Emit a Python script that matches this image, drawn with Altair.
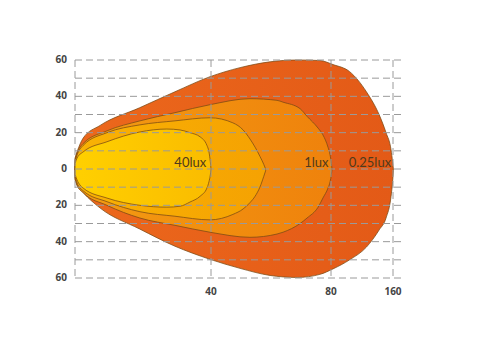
import altair as alt
import pandas as pd

# ---- data (x = distance, y = lateral width) ----
outer_x = [0, 0.6, 2.4, 7.4, 19, 29.4, 39.7, 49.7, 59.7, 68.7, 76.3, 82.5, 104, 125.7, 142.2, 151, 157.5, 159.5, 160.5]
outer_top = [6, 9.4, 17, 24, 33.7, 42.5, 50.8, 55.8, 59, 60, 59.7, 57.5, 53.6, 42.5, 29.8, 20, 10.5, 4, 0]
outer_bot = [-6, -9, -13, -21.5, -33, -42.5, -49.7, -54.7, -58.6, -59.7, -58, -55, -50, -43, -33.5, -27, -15, -7, -1]

lux1_x = [0, 0.6, 2.4, 9.4, 19.1, 29.4, 39.7, 53, 62, 64, 69.7, 72, 75.7, 77.3, 79, 79.7, 80.5, 81.3]
lux1_top = [5, 8.8, 14, 21, 26.5, 31, 35.4, 38.7, 37.8, 36.8, 33.2, 29, 22.5, 18.8, 12, 7.7, 3, 0]
lux1_bot = [-5, -8.8, -13, -20, -27, -31, -34.8, -37.6, -35.8, -34.8, -30, -27, -21, -16, -10.5, -7, -3, 0]

lux10_x = [0, 0.6, 2.4, 9.4, 19.1, 29.4, 39.7, 47.3, 50.7, 53, 54.7, 56.3, 57.6, 58.2]
lux10_top = [4, 7.7, 13, 20, 24.3, 26.5, 28.2, 25.4, 21.5, 16.5, 12, 7, 2.5, 0]
lux10_bot = [-4, -7.7, -12, -18, -23.5, -26, -28, -25, -22, -18.5, -15, -10, -4, -1]

lux40_x = [0, 0.6, 2.4, 9.4, 19.1, 27, 30.9, 33.8, 36.8, 38.8, 39.4, 39.8, 40]
lux40_top = [3, 6, 9.4, 15, 20.4, 22, 21.5, 20, 17.7, 13, 9.4, 4, 0]
lux40_bot = [-3, -6, -10.5, -16, -20, -21, -20.5, -18.2, -15, -10.5, -7, -3.3, 0]

label_text = ["40lux", "1lux", "0.25lux"]
label_x = [38.6, 79.2, 157.6]
label_y = [3.5, 3.5, 3.5]

x_grid = [0, 40, 80, 160]
x_tick_vals = [40, 80, 160]
x_tick_text = ["40", "80", "160"]
y_grid = list(range(-60, 61, 10))
y_tick_vals = [60, 40, 20, 0, -20, -40, -60]
y_tick_text = ["60", "40", "20", "0", "20", "40", "60"]

# ---- scales ----
x_scale = alt.Scale(domain=[0, 40, 80, 160], range=[0, 136, 256, 318], nice=False, zero=False)
y_scale = alt.Scale(domain=[-60, 60], nice=False, zero=False)

font = "Open Sans"
grid_color = "#9a9a9a"
tick_color = "#444444"


def contour(xs, top, bot, c0, c1):
    df = pd.DataFrame({"x": xs, "top": top, "bot": bot})
    grad = alt.Gradient(
        gradient="linear",
        stops=[alt.GradientStop(color=c0, offset=0), alt.GradientStop(color=c1, offset=1)],
        x1=0, x2=1, y1=0, y2=0,
    )
    return alt.Chart(df).mark_area(
        interpolate="monotone", color=grad, stroke="#7a4a14", strokeWidth=0.9, strokeOpacity=0.85
    ).encode(
        x=alt.X("x:Q", scale=x_scale, axis=None),
        y=alt.Y("top:Q", scale=y_scale, axis=None),
        y2="bot:Q",
    )


outer = contour(outer_x, outer_top, outer_bot, "#EC681C", "#E35A17")
l1 = contour(lux1_x, lux1_top, lux1_bot, "#F39C12", "#EF820C")
l10 = contour(lux10_x, lux10_top, lux10_bot, "#F9B204", "#F5A202")
l40 = contour(lux40_x, lux40_top, lux40_bot, "#FFD000", "#FABC00")

hgrid = alt.Chart(pd.DataFrame({"y": y_grid})).mark_rule(
    color=grid_color, strokeDash=[7, 4], strokeWidth=1
).encode(y=alt.Y("y:Q", scale=y_scale, axis=None), x=alt.value(0), x2=alt.value(329))

vgrid = alt.Chart(pd.DataFrame({"x": x_grid})).mark_rule(
    color=grid_color, strokeDash=[7, 4], strokeWidth=1
).encode(x=alt.X("x:Q", scale=x_scale, axis=None), y=alt.value(0), y2=alt.value(218))

ylab = alt.Chart(pd.DataFrame({"v": y_tick_vals, "t": y_tick_text})).mark_text(
    align="right", baseline="middle", font=font, fontSize=10, fontWeight="bold", color=tick_color
).encode(y=alt.Y("v:Q", scale=y_scale, axis=None), x=alt.value(-8), text="t:N")

xlab = alt.Chart(pd.DataFrame({"v": x_tick_vals, "t": x_tick_text})).mark_text(
    align="center", baseline="middle", font=font, fontSize=10, fontWeight="bold", color=tick_color
).encode(x=alt.X("v:Q", scale=x_scale, axis=None), y=alt.value(232), text="t:N")

labels_df = pd.DataFrame({"t": label_text, "x": label_x, "y": label_y})
labels = alt.Chart(labels_df).mark_text(
    align="right", baseline="middle", font="Lato", fontSize=13, color="#4f3a1c"
).encode(
    x=alt.X("x:Q", scale=x_scale, axis=None),
    y=alt.Y("y:Q", scale=y_scale, axis=None),
    text="t:N",
)

chart = alt.layer(outer, l1, l10, l40, hgrid, vgrid, labels, ylab, xlab).properties(
    width=329, height=218,
    autosize=alt.AutoSizeParams(type="none"),
    padding={"left": 75, "top": 60, "right": 96, "bottom": 85},
    background="white",
).configure_view(stroke=None)

chart.save("out.html", embed_options={"renderer": "svg", "actions": False})
